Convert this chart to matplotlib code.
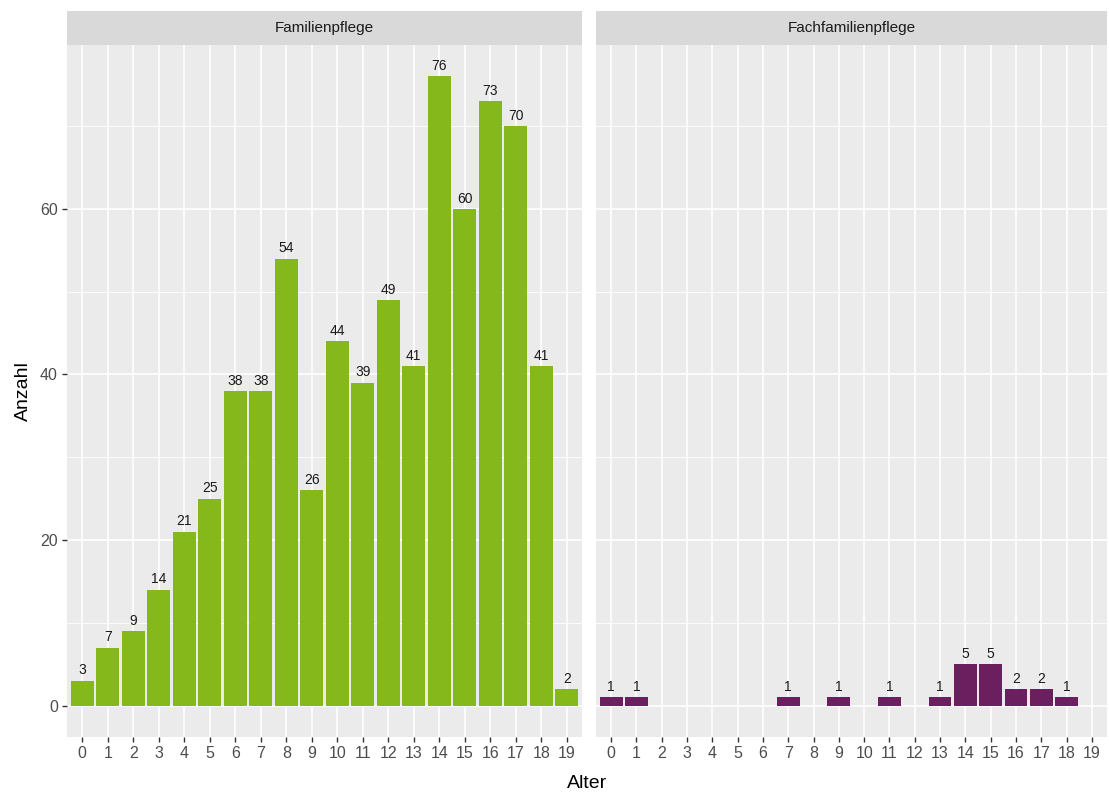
import matplotlib.pyplot as plt

plt.rcParams['font.family'] = ['Liberation Sans', 'DejaVu Sans']

# =====================================================
# DATA
# =====================================================

ages = list(range(20))

familien_ages = list(range(20))
familien_vals = [3, 7, 9, 14, 21, 25, 38, 38, 54, 26, 44, 39, 49, 41, 76, 60, 73, 70, 41, 2]

fach_ages = [0, 1, 7, 9, 11, 13, 14, 15, 16, 17, 18]
fach_vals = [1, 1, 1, 1, 1, 1, 5, 5, 2, 2, 1]

panels = [
    ("Familienpflege", familien_ages, familien_vals, "#85B81A"),
    ("Fachfamilienpflege", fach_ages, fach_vals, "#6B1F5E"),
]

# =====================================================
# LAYOUT (ggplot-like facets)
# =====================================================

W, H = 1109, 794
fig = plt.figure(figsize=(W / 100, H / 100), dpi=100)

bottom = 1 - 737 / H
top = 1 - 45 / H
strip_top = 1 - 11 / H
lefts = [(67, 582), (596, 1107)]

ymax = max(familien_vals)
ylo, yhi = -0.05 * ymax, ymax * 1.05

for k, ((title, xs, ys, color), (x0, x1)) in enumerate(zip(panels, lefts)):
    ax = fig.add_axes([x0 / W, bottom, (x1 - x0) / W, top - bottom])
    ax.set_facecolor("#EBEBEB")
    for s in ax.spines.values():
        s.set_visible(False)

    ax.set_xlim(-0.6, 19.6)
    ax.set_ylim(ylo, yhi)

    # grid
    for y in [10, 30, 50, 70]:
        ax.axhline(y, color="white", lw=0.6, zorder=0)
    for y in [0, 20, 40, 60]:
        ax.axhline(y, color="white", lw=1.2, zorder=0)
    for x in ages:
        ax.axvline(x, color="white", lw=1.2, zorder=0)

    ax.bar(xs, ys, width=0.9, color=color, zorder=2)
    for x, y in zip(xs, ys):
        ax.text(x, y + 0.4, str(y), ha="center", va="bottom",
                fontsize=10, color="#1A1A1A", zorder=3)

    ax.set_xticks(ages)
    ax.set_xticklabels([str(a) for a in ages])
    ax.tick_params(axis="x", length=3.5, width=1, color="#333333",
                   labelsize=11.5, labelcolor="#4D4D4D", pad=3)
    ax.set_yticks([0, 20, 40, 60])
    if k == 0:
        ax.tick_params(axis="y", length=3.5, width=1, color="#333333",
                       labelsize=11.5, labelcolor="#4D4D4D", pad=3)
        ax.set_ylabel("Anzahl", fontsize=14, color="black", labelpad=6)
    else:
        ax.tick_params(axis="y", length=0, labelleft=False)

    # strip
    sax = fig.add_axes([x0 / W, top, (x1 - x0) / W, strip_top - top])
    sax.set_facecolor("#D9D9D9")
    sax.set_xticks([])
    sax.set_yticks([])
    for s in sax.spines.values():
        s.set_visible(False)
    sax.text(0.5, 0.5, title, ha="center", va="center",
             fontsize=11, color="#1A1A1A", transform=sax.transAxes)

fig.text((67 + 1107) / 2 / W, 1 - 784 / H, "Alter", ha="center", va="center",
         fontsize=14, color="black")

fig.savefig("out.png", dpi=100)
